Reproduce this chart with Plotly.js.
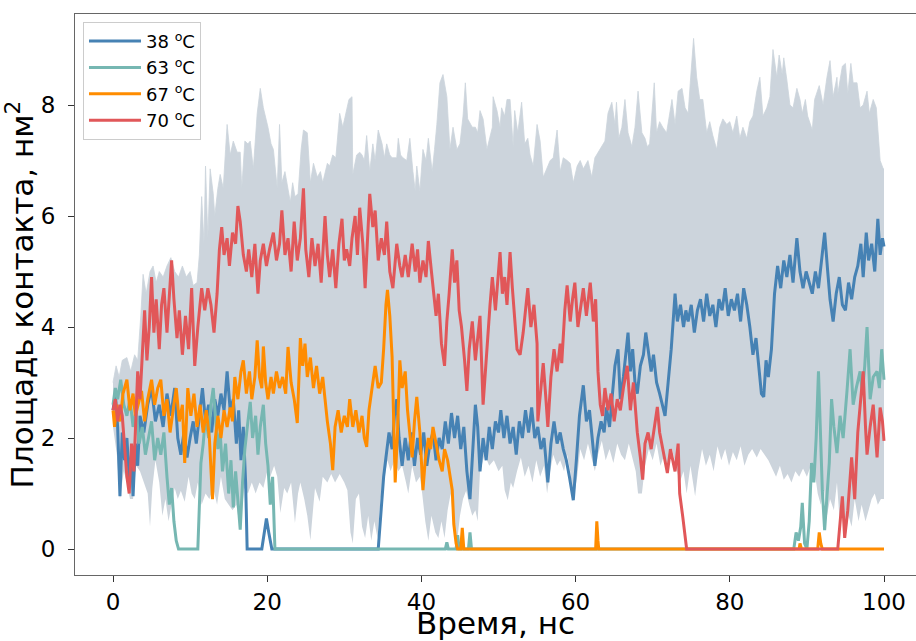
<!DOCTYPE html>
<html>
<head>
<meta charset="utf-8">
<script src="https://cdn.plot.ly/plotly-3.0.1.min.js"></script>
<style>html,body{margin:0;padding:0;background:#fff;}#chart{width:916px;height:641px;}</style>
</head>
<body>
<div id="chart"></div>
<script>
// ---- Data (time in ns, area in nm^2) ----
const bandUpperT = [0,0.4,0.8,1.2,1.8,2.3,2.8,3.2,3.6,3.9,4.3,4.8,5.2,5.6,6.0,6.5,7.0,7.5,8.0,8.5,9.0,9.5,10.0,10.4,10.9,11.2,11.5,11.8,12.0,12.3,12.6,13.0,13.2,13.6,13.9,14.3,14.6,14.8,15.2,15.6,16.1,16.5,16.7,17.1,17.5,17.8,18.2,18.7,19.1,19.5,20.1,20.5,20.8,21.3,21.6,21.9,22.3,22.7,23.0,23.3,23.6,24.0,24.4,24.7,25.2,25.6,26.0,26.5,26.9,27.2,27.5,27.8,28.1,28.5,28.9,29.4,29.8,30.3,30.6,31.0,31.1,31.6,32.0,32.3,32.6,32.9,33.3,33.7,34.0,34.4,34.9,35.2,35.5,35.9,36.2,36.8,37.0,37.3,37.6,38.1,38.5,38.9,39.2,39.4,39.8,40.2,40.6,40.9,41.4,41.7,42.0,42.4,42.8,43.3,43.7,44.1,44.6,45.0,45.4,45.7,46.0,46.6,47.0,47.3,47.6,48.0,48.5,49.2,49.3,49.8,50.2,50.4,50.8,51.1,51.5,51.9,52.1,52.5,53.0,53.4,53.8,54.1,54.5,55.0,55.4,55.8,56.3,56.7,57.1,57.6,58.0,58.4,58.9,59.3,59.7,60.2,60.6,61.0,61.6,62.1,62.5,63.2,63.8,64.2,64.7,65.1,65.3,65.6,66.0,66.4,66.8,67.3,67.7,68.1,68.6,69.0,69.3,69.6,70.2,70.5,70.9,71.3,71.8,72.5,72.9,73.3,73.8,74.2,74.6,74.9,75.3,75.7,76.1,76.5,77.0,77.4,77.8,78.3,78.7,79.1,79.6,80.0,80.4,80.9,81.3,81.7,82.2,82.6,83.0,83.5,83.9,84.3,84.8,85.2,85.6,86.1,86.4,86.8,87.0,87.4,87.8,88.2,88.7,89.1,89.4,89.8,90.1,90.7,91.0,91.6,92.1,92.6,93.0,93.4,93.9,94.0,94.6,95.0,95.3,95.7,96.0,96.5,96.9,97.3,97.8,98.1,98.6,99.0,99.5,99.9,100];
const bandUpperV = [3.0,3.3,3.1,3.4,3.45,3.2,3.5,3.4,4.2,4.95,4.6,5.0,5.1,4.8,5.0,4.9,5.1,5.25,5.0,4.9,5.1,4.9,5.0,4.75,4.8,5.3,6.35,5.5,6.9,5.6,6.85,6.4,6.0,6.5,6.75,6.5,7.2,7.65,7.1,7.35,7.15,7.15,6.5,7.35,7.3,7.35,6.85,7.85,8.3,7.95,7.6,7.3,7.2,6.5,7.65,6.6,6.8,6.5,6.25,6.6,6.35,6.4,7.2,7.55,7.5,6.6,6.95,6.7,6.8,6.6,6.8,6.95,6.9,7.1,7.05,7.85,7.6,7.9,8.1,8.15,6.75,7.1,7.15,7.1,7.0,7.45,6.8,7.3,7.0,7.55,7.3,7.05,7.3,7.1,7.05,7.05,7.4,7.1,7.05,7.0,7.4,6.8,6.45,6.9,6.45,7.2,7.0,7.4,6.8,7.2,7.65,8.4,8.55,8.15,7.2,7.6,7.2,7.3,7.8,8.4,7.75,7.6,7.6,7.5,7.9,7.75,7.2,7.6,8.15,7.9,7.6,7.95,7.8,8.1,8.1,7.25,7.9,7.5,8.05,7.3,7.4,7.1,6.9,7.65,7.35,6.7,6.85,7.0,7.05,7.55,6.8,7.05,7.0,6.95,6.6,6.9,7.0,6.85,7.0,6.7,7.05,7.2,7.35,7.85,8.05,7.65,8.05,7.4,7.6,8.1,7.5,7.25,7.6,8.25,7.5,7.4,7.25,7.3,8.4,7.5,7.7,7.6,7.5,8.1,7.65,8.25,8.3,7.95,7.85,8.45,9.2,8.5,8.1,8.1,7.5,7.7,7.45,7.2,7.6,7.75,7.65,7.7,7.5,7.8,7.4,7.6,7.4,7.7,7.8,8.25,8.5,7.8,7.95,8.15,9.0,8.5,8.9,8.55,8.85,8.45,8.0,7.95,8.3,8.1,7.85,8.1,7.8,7.55,8.1,8.35,8.0,8.5,8.8,8.15,8.5,8.2,8.7,8.75,8.2,8.75,8.4,8.4,7.95,8.0,8.25,7.85,8.1,7.95,7.0,6.85,6.85];

const bandLowerT = [0,0.5,0.9,1.4,1.8,2.2,2.6,3.0,3.5,4.0,4.5,4.8,5.1,5.5,6.0,6.4,6.8,7.2,7.6,8.0,8.4,8.8,9.3,9.8,10.2,10.6,11.0,11.5,12.0,12.5,13.0,13.5,14.0,14.5,15.0,15.5,16.0,16.5,17.0,17.5,18.0,18.5,19.0,19.5,20.0,20.4,20.9,21.3,21.7,22.2,22.6,23.1,23.6,24.0,24.3,24.8,25.2,25.6,26.0,26.2,26.8,27.2,27.8,28.3,28.8,29.4,30.0,30.4,30.8,31.1,31.5,31.9,32.3,32.7,33.1,33.5,33.9,34.3,34.7,35.1,35.6,36.0,36.5,37.0,37.5,38.0,38.3,38.8,39.3,39.8,40.1,40.5,40.9,41.3,41.8,42.2,42.6,43.0,43.4,43.8,44.2,44.6,45.0,45.4,45.8,46.2,46.6,47.0,47.3,47.6,48.2,48.8,49.4,50.0,50.5,50.8,51.2,51.6,51.9,52.4,52.9,53.4,53.9,54.4,54.9,55.4,55.9,56.3,56.7,57.1,57.6,58.0,58.5,58.9,59.3,59.7,60.2,60.6,61.1,61.6,62.1,62.5,62.9,63.4,63.9,64.4,64.9,65.4,65.9,66.4,66.9,67.4,67.8,68.1,68.6,69.0,69.5,70.0,70.5,71.0,71.5,72.0,72.5,73.0,73.5,74.0,74.4,74.9,75.5,75.9,76.4,76.9,77.4,77.9,78.4,78.9,79.4,79.9,80.4,80.9,81.4,81.9,82.4,82.9,83.5,84.0,84.5,85.0,85.5,86.0,86.5,87.0,87.5,88.0,88.5,89.0,89.5,90.0,90.5,91.0,91.4,91.8,92.2,92.6,93.0,93.5,93.9,94.3,94.7,95.0,95.4,95.8,96.2,96.7,97.1,97.6,98.0,98.4,98.8,99.2,99.6,100];
const bandLowerV = [2.2,1.7,0.9,1.4,1.2,0.9,0.9,1.5,1.4,1.2,1.0,0.4,1.1,1.6,1.2,0.6,0.9,0.5,0.8,1.1,0.9,1.05,0.85,1.3,1.0,0.9,1.2,0.8,1.0,0.9,1.1,0.8,1.3,0.9,0.8,0.7,0.8,0.35,1.1,1.0,1.2,1.0,1.2,1.1,1.4,1.3,1.5,1.3,0.65,1.1,1.0,1.2,0.47,1.0,1.2,0.9,0.6,0.16,0.8,1.1,0.85,1.3,1.2,1.35,1.2,1.35,1.2,1.06,0.3,0.1,0.9,1.0,0.4,0.2,0.6,0.15,0.5,0.2,0.9,1.2,1.6,1.4,1.6,1.4,1.5,1.2,1.0,1.5,1.2,1.3,1.0,0.5,0.15,0.6,0.3,0.2,0.5,0.2,0.7,1.0,0.4,0.1,0.6,0.9,1.05,0.8,0.6,0.7,0.5,1.4,1.7,1.5,1.6,1.4,1.5,1.06,0.88,1.2,1.1,1.4,1.65,1.3,1.5,1.2,1.6,1.3,1.5,1.0,1.4,1.7,1.5,1.6,1.4,1.7,1.4,0.88,1.3,1.8,1.6,1.9,1.6,1.4,1.7,1.95,1.6,1.8,1.55,1.9,1.7,1.6,1.9,1.6,1.4,1.0,1.0,1.5,1.8,1.6,1.9,1.5,1.7,1.4,1.8,1.5,1.2,1.4,1.0,1.5,0.95,1.4,1.8,1.5,1.7,1.4,1.85,1.6,1.8,1.5,1.75,1.6,1.85,1.5,1.7,1.8,1.65,1.8,1.7,1.6,1.45,1.3,1.5,1.25,1.35,1.2,1.4,1.3,1.45,1.3,1.5,1.4,1.0,0.8,1.1,0.6,0.9,0.7,1.2,0.4,0.9,0.2,0.6,0.4,0.9,0.5,0.8,0.5,0.7,0.9,1.0,0.8,0.9,0.9];

const t38 = [0,0.3,0.6,0.9,1.2,1.5,1.8,2.1,2.4,2.6,2.9,3.2,3.5,4.0,4.5,5.0,5.5,6.0,6.5,7.0,7.5,8.0,8.4,8.8,9.2,9.6,10.0,10.4,10.8,11.2,11.6,12.0,12.4,12.8,13.2,13.6,14.0,14.4,14.8,15.2,15.6,16.0,16.3,16.6,16.9,17.2,17.4,19.3,19.6,19.9,20.2,20.6,34.4,34.8,35.1,35.4,35.8,36.2,36.5,36.8,37.1,37.5,37.9,38.3,38.7,39.1,39.5,39.9,40.3,40.7,41.1,41.5,41.9,42.3,42.7,43.1,43.5,43.9,44.3,44.7,45.1,45.5,45.9,46.3,46.7,47.0,47.3,47.6,48.0,48.4,48.8,49.2,49.6,50.0,50.3,50.7,51.1,51.5,51.9,52.3,52.7,53.1,53.5,53.9,54.3,54.7,55.1,55.5,55.9,56.4,56.8,57.2,57.6,58.0,58.4,58.8,59.2,59.7,60.1,60.5,61.0,61.4,61.8,62.2,62.5,62.9,63.3,63.7,64.0,64.4,64.8,65.1,65.5,65.8,66.2,66.5,66.8,67.1,67.4,67.7,68.0,68.4,68.8,69.1,69.4,69.8,70.1,70.5,70.9,71.2,71.6,72.0,72.4,72.7,72.9,73.2,73.6,74.0,74.3,74.6,75.0,75.4,75.8,76.2,76.6,77.0,77.4,77.8,78.2,78.6,79.0,79.4,79.8,80.2,80.6,81.0,81.4,81.8,82.2,82.6,83.0,83.4,83.8,84.1,84.4,84.7,85.0,85.4,85.8,86.2,86.6,87.0,87.4,87.8,88.2,88.7,89.1,89.5,89.9,90.3,90.7,91.1,91.5,91.9,92.3,92.7,93.0,93.4,93.8,94.2,94.6,95.0,95.4,95.8,96.2,96.6,97.0,97.3,97.7,98.0,98.4,98.8,99.2,99.5,99.8,100];
const v38 = [2.5,2.8,2.2,0.95,2.1,1.6,2.0,1.3,1.7,0.95,1.9,1.5,2.4,2.1,2.6,2.9,2.3,2.6,2.2,2.8,2.4,2.9,2.0,1.7,2.1,1.65,2.0,2.3,1.9,2.4,2.9,2.3,2.6,2.1,2.7,2.4,2.8,2.5,3.2,2.5,2.7,1.9,2.5,1.6,2.2,1.2,0,0,0.3,0.55,0.3,0,0,0.8,1.3,1.65,2.1,1.8,2.4,2.7,2.0,1.5,2.0,1.6,2.1,1.5,2.0,1.7,2.1,1.5,1.9,2.1,1.6,2.0,1.8,2.3,1.9,2.45,2.0,2.4,1.8,2.2,1.4,0.9,1.8,2.6,2.2,1.4,2.0,1.6,2.2,1.8,2.3,2.1,2.5,2.0,2.4,1.9,2.2,1.7,2.3,2.0,2.5,2.1,2.55,2.0,2.2,1.8,2.0,1.2,1.9,2.3,1.9,2.1,1.8,1.6,1.3,0.88,1.6,2.4,2.95,2.3,2.5,1.9,1.5,2.0,2.3,2.1,2.55,2.2,2.9,3.3,3.6,2.7,3.1,3.5,3.9,3.2,3.6,3.0,2.8,3.3,3.5,3.9,3.6,3.2,3.5,3.0,2.8,2.6,2.4,3.0,3.6,4.2,4.6,4.1,4.4,4.0,4.3,4.1,4.4,3.9,4.3,4.5,4.1,4.6,4.2,4.4,4.0,4.5,4.3,4.7,4.2,4.5,4.3,4.6,4.1,4.7,4.4,4.0,3.5,3.8,3.2,2.8,2.74,3.4,3.1,3.6,4.6,5.1,4.7,5.2,4.9,5.3,4.8,5.6,5.0,4.7,5.0,4.8,4.6,5.0,4.7,5.2,5.7,5.0,4.5,4.1,4.6,4.9,4.4,4.3,4.8,4.5,4.9,5.1,5.5,4.9,5.7,5.2,5.5,5.0,5.95,5.3,5.6,5.45];

const t63 = [0,0.3,0.6,1.0,1.4,1.8,2.2,2.6,3.0,3.4,3.8,4.2,4.6,5.0,5.4,5.8,6.2,6.6,7.0,7.3,7.6,7.9,8.2,8.5,11.0,11.2,11.4,11.7,12.0,12.4,12.7,13.0,13.3,13.6,13.9,14.2,14.6,15.0,15.3,15.6,15.9,16.2,16.5,16.8,17.1,17.5,17.8,18.1,18.5,18.8,19.1,19.5,19.8,20.1,20.4,20.7,21.0,43.1,43.3,43.5,44.5,44.7,44.9,46.1,46.3,46.5,88.3,88.6,88.9,89.2,89.4,89.7,90.0,90.3,90.6,90.9,91.2,91.5,91.8,92.0,92.3,92.6,92.9,93.2,93.5,93.9,94.3,94.7,95.0,95.2,95.6,96.0,96.4,96.9,97.2,97.5,97.8,98.2,98.6,99.1,99.4,99.7,100];
const v63 = [2.6,2.9,2.7,3.05,2.6,2.4,2.7,2.2,2.5,1.9,2.2,1.7,2.0,2.3,1.6,2.0,1.7,2.1,1.3,0.8,1.1,0.5,0.15,0,0,1.0,1.55,1.9,2.4,2.0,2.6,2.9,2.3,1.8,2.1,1.4,1.9,1.0,1.6,0.75,1.4,0.9,0.35,1.2,1.8,2.3,2.65,2.0,2.4,1.7,2.2,2.6,1.9,1.5,0.8,1.3,0,0,0.12,0,0,0.25,0,0,0.3,0,0,0.3,0.15,0.4,0.83,0.1,0,0.5,1.55,1.2,2.0,3.2,1.8,1.06,0.34,0.9,1.55,2.7,2.2,1.73,2.4,2.0,2.6,2.85,3.6,2.6,2.9,3.2,2.8,3.3,4.0,2.7,3.1,3.2,2.9,3.6,3.05];

const t67 = [0,0.2,0.5,0.9,1.3,1.8,2.2,2.6,2.9,3.3,3.7,4.1,4.5,5.0,5.4,5.8,6.2,6.6,7.0,7.4,7.8,8.2,8.6,9.0,9.3,9.7,10.1,10.5,10.9,11.3,11.7,12.1,12.5,12.9,13.2,13.6,14.0,14.4,14.8,15.2,15.5,15.8,16.2,16.6,16.9,17.3,17.7,18.0,18.4,18.7,19.0,19.3,19.5,19.8,20.1,20.5,20.8,21.2,21.6,22.0,22.4,22.7,23.1,23.5,23.9,24.3,24.6,24.9,25.2,25.6,26.0,26.4,26.8,27.2,27.5,27.8,28.2,28.5,28.8,29.2,29.6,30.0,30.4,30.7,31.1,31.5,31.9,32.3,32.6,32.9,33.2,33.6,34.0,34.4,34.8,35.1,35.4,35.6,35.9,36.2,36.4,36.6,36.9,37.2,37.5,37.9,38.2,38.5,38.8,39.1,39.4,39.8,40.0,40.2,40.5,40.9,41.2,41.5,41.9,42.3,42.7,43.0,43.4,43.7,44.0,44.2,44.5,44.7,45.1,45.3,45.5,62.6,62.75,62.9,63.0,89.0,89.1,89.3,91.4,91.6,91.8,92.0,100];
const v67 = [2.5,2.2,2.6,2.3,2.8,3.05,2.5,2.8,2.4,2.6,2.85,2.3,2.7,3.05,2.6,2.9,3.05,2.4,2.7,2.1,2.5,2.9,2.3,2.6,1.55,2.9,2.4,2.8,2.2,2.6,2.1,2.5,2.0,0.9,1.9,2.4,2.0,2.5,2.2,2.55,2.3,3.1,2.7,3.2,3.4,2.8,3.2,2.7,3.1,3.76,3.1,2.9,3.65,3.0,2.7,3.1,2.8,3.2,2.9,3.1,2.8,3.64,3.0,2.7,2.27,3.8,3.3,3.7,3.1,3.45,2.9,3.3,2.8,3.1,2.7,2.3,1.9,1.42,2.2,2.5,2.1,2.4,2.2,2.7,2.2,2.5,2.1,2.4,2.0,1.84,2.5,2.9,3.3,2.9,3.0,3.6,4.4,4.67,4.2,3.46,2.3,1.2,2.1,3.4,2.9,3.2,2.5,2.1,1.65,2.3,2.74,2.1,1.6,1.06,1.6,2.0,1.8,2.2,1.9,1.6,1.4,1.8,1.6,1.3,1.06,0.45,0.1,0,0,0.38,0,0,0.5,0.15,0,0,0.1,0,0,0.3,0.1,0,0];

const t70 = [0,0.3,0.6,0.9,1.2,1.5,1.8,2.1,2.4,2.7,3.0,3.2,3.5,3.8,4.1,4.4,4.7,5.0,5.3,5.6,6.0,6.3,6.6,7.0,7.3,7.6,7.9,8.3,8.6,9.0,9.4,9.8,10.2,10.6,11.0,11.5,11.9,12.3,12.7,13.1,13.5,13.8,14.1,14.4,14.8,15.1,15.5,15.9,16.2,16.5,16.9,17.3,17.6,18.0,18.4,18.8,19.1,19.5,19.9,20.3,20.8,21.2,21.6,21.9,22.3,22.7,23.1,23.5,23.9,24.3,24.7,25.0,25.4,25.8,26.2,26.6,27.0,27.5,27.8,28.1,28.5,28.9,29.3,29.7,30.0,30.3,30.7,31.0,31.4,31.7,32.0,32.4,32.7,33.0,33.3,33.7,34.0,34.4,34.8,35.2,35.5,35.9,36.3,36.8,37.2,37.5,37.9,38.3,38.8,39.2,39.5,39.8,40.2,40.6,40.9,41.3,41.6,41.9,42.2,42.6,43.0,43.3,43.6,44.0,44.3,44.6,44.9,45.2,45.6,45.9,46.2,46.6,47.0,47.3,47.6,48.0,48.3,48.6,48.9,49.2,49.6,50.0,50.2,50.5,50.8,51.1,51.5,51.8,52.1,52.4,52.8,53.2,53.5,53.8,54.2,54.6,55.0,55.1,55.5,55.8,56.1,56.4,56.8,57.2,57.6,58.0,58.2,58.6,58.9,59.3,59.6,59.9,60.3,60.7,61.0,61.4,61.9,62.3,62.6,62.9,63.2,63.5,63.8,64.2,64.6,65.0,65.4,65.8,66.2,66.7,67.1,67.5,68.0,68.4,68.7,69.0,69.4,69.8,70.2,70.6,70.9,71.2,71.6,71.9,72.3,72.6,72.9,73.3,73.5,73.9,74.2,74.4,94.0,94.3,94.6,94.9,95.3,95.8,96.2,96.6,97.0,97.3,97.6,97.8,98.2,98.6,99.1,99.5,99.8,100];
const v70 = [2.5,2.7,2.3,2.6,2.4,1.9,1.3,1.0,1.9,1.4,2.5,3.2,2.7,3.6,4.3,3.4,4.0,4.9,3.9,4.5,3.6,4.4,4.7,3.9,4.6,5.2,4.5,3.8,4.3,3.5,4.2,3.6,4.7,3.3,4.0,4.7,4.3,4.7,4.4,3.9,4.6,5.4,5.8,5.3,5.6,5.1,5.7,5.5,6.18,5.9,5.3,5.0,5.4,4.9,5.5,4.6,5.2,5.5,5.1,5.4,5.7,5.2,5.5,6.1,5.3,5.6,5.0,5.9,5.2,5.6,6.5,5.4,4.9,5.6,5.1,5.5,4.8,6.0,5.3,4.9,5.4,4.7,5.5,5.95,5.2,5.4,5.1,5.6,6.0,5.3,6.15,5.5,4.7,5.6,6.4,5.8,6.1,5.2,5.6,5.3,5.9,5.0,4.7,5.5,5.1,4.9,5.3,4.9,5.5,5.0,5.4,4.8,5.2,4.9,5.55,5.0,4.6,4.2,4.6,3.7,3.3,4.1,4.6,5.4,4.8,5.2,4.3,4.0,3.4,2.85,3.6,4.1,3.4,3.8,4.2,2.6,3.2,3.9,4.4,4.9,4.3,5.0,5.35,4.6,4.9,4.4,5.35,4.7,4.1,3.6,3.5,3.9,4.3,4.7,4.0,4.4,3.7,2.3,2.9,3.35,2.8,2.2,3.1,3.6,3.2,3.7,3.35,4.3,4.75,4.1,4.5,4.8,4.0,4.4,4.7,4.2,4.8,4.1,4.5,3.2,2.6,2.4,2.9,2.5,2.8,2.3,2.7,2.5,2.9,3.3,2.5,3.0,2.1,1.65,1.25,1.9,2.1,1.8,2.2,2.56,2.1,1.9,1.6,1.37,1.8,1.6,1.4,1.9,1.0,0.58,0.18,0,0,0.5,0.95,0.2,0.7,1.65,0.9,2.1,2.75,3.2,2.2,1.7,2.2,2.6,1.65,2.55,2.3,1.95];

const seriesNames = ['38 <sup>o</sup>C', '63 <sup>o</sup>C', '67 <sup>o</sup>C', '70 <sup>o</sup>C'];
const seriesT = [t38, t63, t67, t70];
const seriesV = [v38, v63, v67, v70];
const seriesColors = ['#4682b4', '#76b7b2', '#ff8c00', '#e15759'];

const xTicks = [0, 20, 40, 60, 80, 100];
const yTicks = [0, 2, 4, 6, 8];

const traces = [
  {x: bandLowerT, y: bandLowerV, type: 'scatter', mode: 'lines', line: {width: 0, color: '#ccd4dc'}, showlegend: false, hoverinfo: 'skip'},
  {x: bandUpperT, y: bandUpperV, type: 'scatter', mode: 'lines', line: {width: 0.8, color: '#ccd4dc'}, fill: 'tonexty', fillcolor: '#ccd4dc', showlegend: false, hoverinfo: 'skip'}
];
for (let i = 0; i < seriesT.length; i++) {
  traces.push({x: seriesT[i], y: seriesV[i], type: 'scatter', mode: 'lines', name: seriesNames[i],
    line: {color: seriesColors[i], width: 3}});
}

const layout = {
  width: 916, height: 641,
  margin: {l: 75, r: 0, t: 14, b: 66},
  paper_bgcolor: '#ffffff', plot_bgcolor: '#ffffff',
  font: {family: 'DejaVu Sans, sans-serif', color: '#000'},
  showlegend: true,
  legend: {x: 0.0095, y: 0.986, xanchor: 'left', yanchor: 'top', traceorder: 'normal', itemwidth: 52,
    bgcolor: 'rgba(255,255,255,0.9)', bordercolor: '#cccccc', borderwidth: 1,
    font: {size: 18, family: 'DejaVu Sans, sans-serif'}},
  xaxis: {range: [-4.93, 104.15], tickvals: xTicks, ticktext: xTicks.map(String), ticks: 'outside', ticklen: 6, tickwidth: 1,
    tickcolor: '#333', showline: true, linecolor: '#666', linewidth: 1, mirror: true, showgrid: false, zeroline: false,
    tickfont: {size: 23}, automargin: false,
    title: {text: 'Время, нс', font: {size: 31}, standoff: 13}},
  yaxis: {range: [-0.468, 9.64], tickvals: yTicks, ticktext: yTicks.map(String), ticks: 'outside', ticklen: 6, tickwidth: 1,
    tickcolor: '#333', showline: true, linecolor: '#666', linewidth: 1, mirror: false, showgrid: false, zeroline: false,
    tickfont: {size: 23}, automargin: false, ticklabelstandoff: 8,
    title: {text: 'Площадь контакта, нм<sup>2</sup>', font: {size: 31}, standoff: 2}}
};

Plotly.newPlot('chart', traces, layout, {displayModeBar: false, staticPlot: true});
</script>
</body>
</html>
